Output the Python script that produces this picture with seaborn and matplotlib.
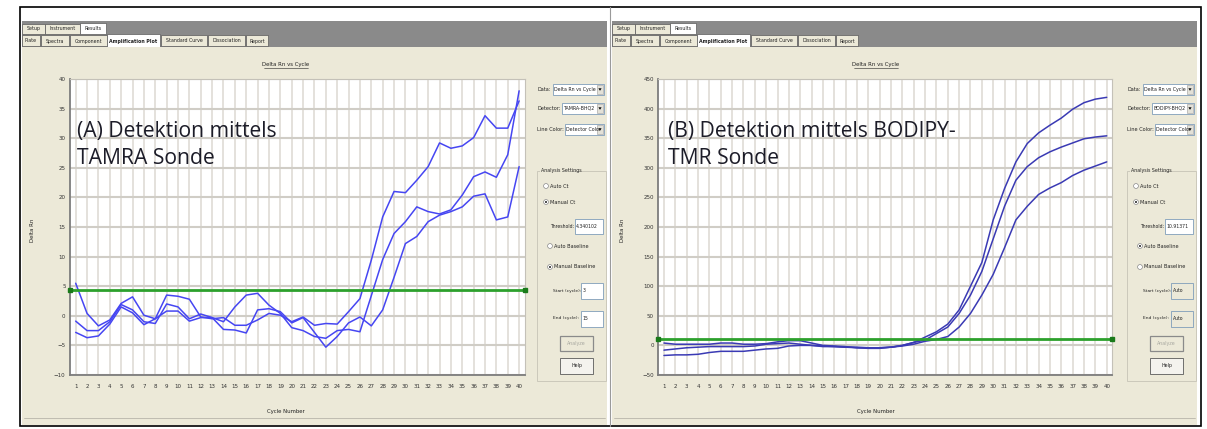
import numpy as np
import pandas as pd
import matplotlib
matplotlib.use("Agg")
import matplotlib.pyplot as plt
from matplotlib.patches import Rectangle, Circle, Polygon
import seaborn as sns

# ---------------- data ----------------
cycles = list(range(1, 41))

tamra_well_1 = [5.5, 0.4, -1.7, -0.7, 2.1, 3.2, 0.1, -0.5, 3.5, 3.3,
                2.8, -0.2, -0.5, -0.3, -1.6, -1.6, -0.7, 0.4, 0.1, -1.0,
                -0.2, -1.6, -1.3, -1.4, 0.7, 2.9, 9.4, 16.7, 21.0, 20.8,
                22.9, 25.2, 29.2, 28.3, 28.7, 30.1, 33.8, 31.7, 31.7, 36.3]
tamra_well_2 = [-0.9, -2.5, -2.5, -1.0, 1.9, 1.0, -1.0, -1.3, 2.0, 1.5,
                -0.5, 0.3, -0.3, -1.0, 1.5, 3.5, 3.8, 1.8, 0.4, -2.0,
                -2.5, -3.5, -3.8, -2.5, -2.3, -2.7, 3.4, 9.5, 13.9, 15.9,
                18.4, 17.6, 17.2, 17.9, 20.4, 23.5, 24.3, 23.4, 27.2, 38.0]
tamra_well_3 = [-2.8, -3.7, -3.4, -1.4, 1.5, 0.5, -1.5, -0.5, 0.8, 0.8,
                -0.9, -0.3, -0.3, -2.3, -2.4, -2.9, 1.0, 1.2, 0.7, -1.2,
                -0.3, -2.8, -5.3, -3.5, -1.2, -0.2, -1.7, 1.0, 6.5, 12.2,
                13.4, 15.9, 17.0, 17.6, 18.4, 20.2, 20.6, 16.2, 16.7, 25.2]
tamra_threshold = 4.340102

bodipy_well_1 = [4, 2, 2, 2, 2, 4, 4, 2, 2, 3,
                 6, 8, 8, 4, 0, -1, -2, -4, -4, -4,
                 -3, 0, 5, 14, 23, 36, 60, 100, 140, 212,
                 265, 310, 341, 359, 372, 384, 399, 410, 416, 419]
bodipy_well_2 = [-8, -6, -4, -3, -2, -2, -2, -2, -1, 2,
                 3, 4, 2, 0, -2, -2, -3, -4, -5, -5,
                 -3, 0, 5, 9, 20, 31, 54, 85, 125, 180,
                 235, 279, 302, 317, 327, 335, 342, 349, 352, 354]
bodipy_well_3 = [-17, -16, -16, -15, -12, -10, -10, -10, -8, -6,
                 -5, -1, 0, 0, -1, -2, -3, -3, -4, -4,
                 -3, -1, 2, 7, 10, 15, 31, 54, 85, 120,
                 165, 212, 235, 255, 266, 275, 287, 296, 303, 310]
bodipy_threshold = 10.91371

tamra_yticks = list(range(-10, 41, 5))
bodipy_yticks = list(range(-50, 451, 50))

# ---------------- styling ----------------
W, H = 1207, 429
BEIGE = "#ECE9D8"
TABBAR = "#8a8a8a"
GRID_V = "#dfdcd6"
GRID_H = "#d0cdc6"
LINE_A = "#4646f2"
LINE_B = "#3a3ab4"
GREEN = "#2ca02c"
UI = "#222222"

sns.set_theme(style="white")
plt.rcParams["font.family"] = ["DejaVu Sans"]

fig = plt.figure(figsize=(W / 100, H / 100), dpi=100)
fig.patch.set_facecolor("white")

bg = fig.add_axes([0, 0, 1, 1], zorder=0)
bg.set_xlim(0, W)
bg.set_ylim(H, 0)
bg.axis("off")

fg = fig.add_axes([0, 0, 1, 1], zorder=10)
fg.set_xlim(0, W)
fg.set_ylim(H, 0)
fg.axis("off")
fg.patch.set_alpha(0)


def rect(x, y, w, h, fc, ec="none", lw=0.6, ax=bg, z=1):
    ax.add_patch(Rectangle((x, y), w, h, facecolor=fc, edgecolor=ec, lw=lw, zorder=z))


def txt(x, y, s, size=4.2, ha="left", va="center", color=UI, ax=bg, **kw):
    ax.text(x, y, s, fontsize=size, ha=ha, va=va, color=color, zorder=5, **kw)


def combo(x, y, w, h, label_x, label, value):
    txt(label_x, y + h / 2, label, size=3.6)
    rect(x, y, w, h, "white", "#7f9db9", 0.6)
    txt(x + 1.5, y + h / 2, value, size=3.4)
    rect(x + w - 7, y + 1, 6, h - 2, "#e3e1d8", "#9a9a9a", 0.4, z=2)
    bg.add_patch(Polygon([[x + w - 5.6, y + h / 2 - 1.2], [x + w - 2.4, y + h / 2 - 1.2],
                          [x + w - 4, y + h / 2 + 1.3]], closed=True, fc="black", ec="none", zorder=3))


def radio(x, y, label, checked):
    bg.add_patch(Circle((x, y), 2.4, fc="white", ec="#8a8a8a", lw=0.5, zorder=2))
    if checked:
        bg.add_patch(Circle((x, y), 1.0, fc="#222222", ec="none", zorder=3))
    txt(x + 4.5, y, label, size=3.6)


def panel_chrome(ox, detector, thr_text, manual_baseline, start_text, end_text):
    # window body and tab strip
    rect(ox + 22, 21, 585, 404, BEIGE)
    rect(ox + 22, 21, 585, 26, TABBAR)
    for name, x, w, sel in [("Setup", 22, 23, False), ("Instrument", 45, 35, False),
                            ("Results", 80, 26, True)]:
        rect(ox + x, 22.5 if sel else 23.5, w, 11 if sel else 10,
             "white" if sel else BEIGE, "#5a5a5a", 0.5)
        txt(ox + x + w / 2, 28.5, name, size=3.4, ha="center")
    for name, x, w, sel in [("Plate", 22, 18, False), ("Spectra", 41, 28, False),
                            ("Component", 70, 37, False), ("Amplification Plot", 107, 53, True),
                            ("Standard Curve", 161, 46, False), ("Dissociation", 208, 37, False),
                            ("Report", 246, 22, False)]:
        rect(ox + x, 34 if sel else 35, w, 13 if sel else 11,
             "white" if sel else BEIGE, "#5a5a5a", 0.5)
        txt(ox + x + w / 2, 41, name, size=3.4, ha="center",
            weight="bold" if sel else "normal")
    rect(ox + 22, 47, 585, 378, BEIGE)

    # chart title, axis titles
    txt(ox + 286, 64.5, "Delta Rn vs Cycle", size=3.9, ha="center")
    bg.plot([ox + 264, ox + 308], [67.5, 67.5], color=UI, lw=0.4, zorder=5)
    txt(ox + 32, 230, "Delta Rn", size=3.9, ha="center", rotation=90)
    txt(ox + 286, 411, "Cycle Number", size=3.9, ha="center")
    bg.plot([ox + 24, ox + 605], [417.5, 417.5], color="#b8b5aa", lw=0.6, zorder=2)

    # right-hand settings
    combo(ox + 553, 84, 51, 11, ox + 537, "Data:", "Delta Rn vs Cycle")
    combo(ox + 562, 103, 42, 11, ox + 537, "Detector:", detector)
    combo(ox + 565, 124, 39, 11, ox + 537, "Line Color:", "Detector Color")

    rect(ox + 537, 171, 69, 210, "none", "#c6c3b6", 0.6)
    rect(ox + 540, 167.5, 32, 6, BEIGE, z=2)
    txt(ox + 541, 170.5, "Analysis Settings", size=3.4)
    radio(ox + 546, 186, "Auto Ct", False)
    radio(ox + 546, 202, "Manual Ct", True)
    txt(ox + 550, 226, "Threshold:", size=3.3)
    rect(ox + 575, 219, 28, 15, "white", "#7f9db9", 0.6)
    txt(ox + 576.2, 226.5, thr_text, size=3.3)
    radio(ox + 550, 246, "Auto Baseline", not manual_baseline)
    radio(ox + 550, 267, "Manual Baseline", manual_baseline)
    box_fc = "white" if manual_baseline else BEIGE
    txt(ox + 553, 291, "Start (cycle):", size=3.2)
    rect(ox + 581, 283, 22, 16, box_fc, "#7f9db9", 0.6)
    txt(ox + 582.5, 291, start_text, size=3.3)
    txt(ox + 553, 318, "End (cycle):", size=3.2)
    rect(ox + 581, 311, 22, 16, box_fc, "#7f9db9", 0.6)
    txt(ox + 582.5, 319, end_text, size=3.3)
    rect(ox + 560, 336, 33, 15, BEIGE, "#8a8a8a", 0.9)
    txt(ox + 576.5, 343.5, "Analyze", size=3.4, ha="center", color="#a8a8a0")
    rect(ox + 560, 358, 33, 16, "#f4f3ee", "#5a5a5a", 0.6)
    txt(ox + 576.5, 366, "Help", size=3.4, ha="center")


panel_chrome(0, "TAMRA-BHQ2", "4.340102", True, "3", "15")
panel_chrome(590, "BODIPY-BHQ2", "10.91371", False, "Auto", "Auto")

# outer frame and divider
rect(20, 7, 1181, 419, "none", "black", 1.2, z=6)
bg.plot([609.5, 609.5], [7, 426], color="#9a9a9a", lw=0.8, zorder=6)


def px_axes(x0, y0, x1, y1):
    return fig.add_axes([x0 / W, 1 - y1 / H, (x1 - x0) / W, (y1 - y0) / H], zorder=1)


def amp_plot(ax, wells, threshold, yticks, color):
    df = pd.DataFrame({
        "cycle": cycles * len(wells),
        "delta_rn": [v for w in wells for v in w],
        "well": [i for i, w in enumerate(wells) for _ in w],
    })
    ax.set_facecolor("white")
    sns.lineplot(data=df, x="cycle", y="delta_rn", units="well", estimator=None,
                 color=color, lw=1.1, ax=ax, legend=False, zorder=3)
    ax.axhline(threshold, color=GREEN, lw=2.0, zorder=4)
    ax.plot([0.5, 40.5], [threshold, threshold], "s", ms=2.2, color="#1a7a1a",
            clip_on=False, zorder=5)
    ax.set_xlim(0.5, 40.5)
    ax.set_ylim(yticks[0], yticks[-1])
    ax.set_xticks(cycles)
    ax.set_yticks(yticks)
    ax.set_xlabel("")
    ax.set_ylabel("")
    ax.xaxis.grid(True, color=GRID_V, lw=1.2)
    ax.yaxis.grid(True, color=GRID_H, lw=1.5)
    ax.set_axisbelow(True)
    ax.tick_params(length=0, labelsize=4.0, colors="#333333")
    ax.tick_params(axis="y", pad=3.2)
    ax.tick_params(axis="x", pad=6.5)
    for side in ("left", "bottom"):
        ax.spines[side].set_color("#7d7d7d")
        ax.spines[side].set_linewidth(1.3)
    for side in ("top", "right"):
        ax.spines[side].set_color("#c4c1b8")
        ax.spines[side].set_linewidth(0.8)


ax_a = px_axes(70, 79, 524.8, 375)
amp_plot(ax_a, [tamra_well_1, tamra_well_2, tamra_well_3], tamra_threshold, tamra_yticks, LINE_A)

ax_b = px_axes(658.3, 79, 1112.4, 375)
amp_plot(ax_b, [bodipy_well_1, bodipy_well_2, bodipy_well_3], bodipy_threshold, bodipy_yticks, LINE_B)

# panel captions
cap = dict(fontsize=15.2, family=["Open Sans", "DejaVu Sans"], color="#1c1c28", va="baseline", zorder=11)
fg.text(77, 137, "(A) Detektion mittels", **cap)
fg.text(77, 164, "TAMRA Sonde", **cap)
fg.text(668, 137, "(B) Detektion mittels BODIPY-", **cap)
fg.text(668, 164, "TMR Sonde", **cap)

fig.savefig("out.png", dpi=100, facecolor="white")
